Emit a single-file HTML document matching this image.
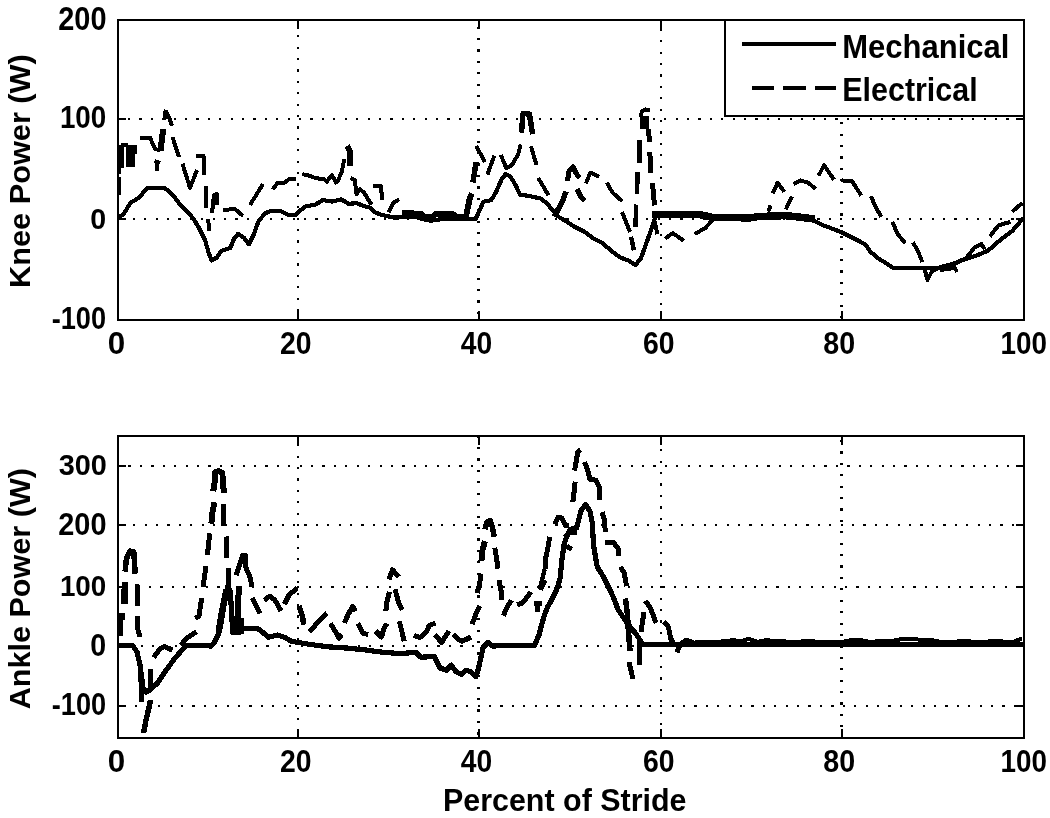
<!DOCTYPE html><html><head><meta charset="utf-8"><style>html,body{margin:0;padding:0;background:#fff;overflow:hidden}svg{display:block;will-change:transform}text{font-family:"Liberation Sans",sans-serif;font-weight:bold;fill:#000}</style></head><body>
<svg shape-rendering="crispEdges" width="1050" height="818" viewBox="0 0 1050 818">
<rect width="1050" height="818" fill="#fff"/>
<g stroke="#000" stroke-width="2.2" stroke-dasharray="2.2 9.21"><line x1="298" y1="20" x2="298" y2="320" stroke-dashoffset="-3.69"/><line x1="478.5" y1="20" x2="478.5" y2="320" stroke-dashoffset="-6.56"/><line x1="661" y1="20" x2="661" y2="320" stroke-dashoffset="-8.76"/><line x1="841.5" y1="20" x2="841.5" y2="320" stroke-dashoffset="-10.86"/><line x1="118" y1="119" x2="1024" y2="119" stroke-dashoffset="-9.90"/><line x1="118" y1="219" x2="1024" y2="219" stroke-dashoffset="-3.39"/></g>
<path d="M298 20v9M298 320v-9M478.5 20v9M478.5 320v-9M661 20v9M661 320v-9M841.5 20v9M841.5 320v-9M118 119h8M1024 119h-8M118 219h8M1024 219h-8" stroke="#000" stroke-width="2" fill="none"/>
<rect x="118" y="20" width="906" height="300" fill="none" stroke="#000" stroke-width="2"/>
<g stroke="#000" stroke-width="2.2" stroke-dasharray="2.2 9.21"><line x1="298" y1="436" x2="298" y2="738" stroke-dashoffset="-8.19"/><line x1="478.5" y1="436" x2="478.5" y2="738" stroke-dashoffset="-11.06"/><line x1="661" y1="436" x2="661" y2="738" stroke-dashoffset="-1.85"/><line x1="841.5" y1="436" x2="841.5" y2="738" stroke-dashoffset="-3.95"/><line x1="118" y1="466" x2="1024" y2="466" stroke-dashoffset="-10.48"/><line x1="118" y1="525" x2="1024" y2="525" stroke-dashoffset="-3.78"/><line x1="118" y1="587" x2="1024" y2="587" stroke-dashoffset="-8.08"/><line x1="118" y1="646" x2="1024" y2="646" stroke-dashoffset="0.00"/><line x1="118" y1="706" x2="1024" y2="706" stroke-dashoffset="-5.88"/></g>
<path d="M298 436v9M298 738v-9M478.5 436v9M478.5 738v-9M661 436v9M661 738v-9M841.5 436v9M841.5 738v-9M118 466h8M1024 466h-8M118 525h8M1024 525h-8M118 587h8M1024 587h-8M118 646h8M1024 646h-8M118 706h8M1024 706h-8" stroke="#000" stroke-width="2" fill="none"/>
<rect x="118" y="436" width="906" height="302" fill="none" stroke="#000" stroke-width="2"/>
<text transform="translate(58.29,30.37) scale(0.2893,0.3296)" font-size="100">200</text>
<text transform="translate(59.89,128.19) scale(0.2782,0.3141)" font-size="100">100</text>
<text transform="translate(90.25,228.80) scale(0.2863,0.3014)" font-size="100">0</text>
<text transform="translate(51.71,328.99) scale(0.2719,0.3070)" font-size="100">-100</text>
<text transform="translate(58.68,474.90) scale(0.2887,0.3042)" font-size="100">300</text>
<text transform="translate(58.29,535.39) scale(0.2893,0.3099)" font-size="100">200</text>
<text transform="translate(59.89,596.40) scale(0.2782,0.3014)" font-size="100">100</text>
<text transform="translate(90.25,656.19) scale(0.2863,0.3099)" font-size="100">0</text>
<text transform="translate(51.71,715.39) scale(0.2719,0.3099)" font-size="100">-100</text>
<text transform="translate(107.85,354.38) scale(0.3137,0.3183)" font-size="100">0</text>
<text transform="translate(279.91,354.38) scale(0.2841,0.3183)" font-size="100">20</text>
<text transform="translate(460.68,354.38) scale(0.2825,0.3183)" font-size="100">40</text>
<text transform="translate(643.01,354.38) scale(0.2841,0.3183)" font-size="100">60</text>
<text transform="translate(823.34,354.38) scale(0.2865,0.3183)" font-size="100">80</text>
<text transform="translate(1000.49,354.38) scale(0.2782,0.3183)" font-size="100">100</text>
<text transform="translate(107.85,772.38) scale(0.3137,0.3183)" font-size="100">0</text>
<text transform="translate(279.91,772.38) scale(0.2841,0.3183)" font-size="100">20</text>
<text transform="translate(460.68,772.38) scale(0.2825,0.3183)" font-size="100">40</text>
<text transform="translate(643.01,772.38) scale(0.2841,0.3183)" font-size="100">60</text>
<text transform="translate(823.34,772.38) scale(0.2865,0.3183)" font-size="100">80</text>
<text transform="translate(1000.49,772.38) scale(0.2782,0.3183)" font-size="100">100</text>
<text transform="translate(442.92,810.90) scale(0.3046,0.3159)" font-size="100">Percent of Stride</text>
<text transform="translate(30.20,287.90) rotate(-90) scale(0.3071,0.3043)" font-size="100">Knee Power (W)</text>
<text transform="translate(29.80,709.37) rotate(-90) scale(0.3062,0.2957)" font-size="100">Ankle Power (W)</text>
<path d="M118.0 218.5 L123.8 213.6 L130.6 202.8 L138.5 197.9 L147.3 188.3 L154.1 188.1 L164.9 188.1 L172.7 195.0 L179.5 203.8 L187.4 211.6 L193.2 218.4 L199.1 228.2 L205.0 240.0 L208.9 253.7 L211.8 260.5 L216.7 257.6 L221.6 250.7 L230.4 247.8 L234.3 238.0 L238.2 233.7 L244.1 238.0 L249.0 244.3 L253.9 234.1 L258.8 220.4 L265.6 213.2 L271.1 210.8 L280.2 210.8 L287.9 214.6 L295.5 215.3 L300.8 210.0 L306.1 206.2 L315.3 204.7 L322.9 200.1 L332.0 201.6 L341.2 199.3 L348.8 203.9 L356.4 203.1 L364.0 206.2 L370.1 207.7 L374.7 212.3 L380.8 214.6 L386.9 216.1 L394.5 217.6 L415.0 216.8 L422.9 219.2 L430.9 220.7 L446.8 218.4 L462.7 218.4 L475.4 219.2 L479.3 211.2 L483.3 201.7 L491.3 200.1 L496.0 192.2 L501.6 179.4 L505.6 173.9 L510.3 176.3 L515.9 185.8 L519.9 194.5 L529.4 196.1 L540.5 198.5 L546.9 203.3 L553.2 211.2 L559.6 217.6 L565.0 220.5 L573.8 226.5 L584.8 232.0 L593.6 238.6 L602.4 243.0 L611.2 250.7 L620.0 257.3 L628.8 260.7 L635.4 265.0 L640.9 258.5 L646.4 243.0 L651.9 227.6 L655.2 217.0 L661.8 214.6 L700.0 214.6 L730.2 218.0 L745.5 217.5 L760.7 216.0 L779.0 216.0 L791.2 216.5 L801.0 218.6 L814.2 220.8 L823.0 225.2 L831.8 228.5 L841.7 232.4 L849.4 236.2 L858.2 240.6 L865.9 245.0 L870.3 251.6 L878.0 258.2 L886.8 263.7 L893.4 268.1 L907.8 268.1 L924.9 268.1 L936.9 268.1 L950.6 264.6 L964.2 259.5 L977.9 255.0 L988.2 250.5 L1000.2 240.0 L1012.2 231.0 L1023.3 218.0" fill="none" stroke="#000" stroke-width="4.2" stroke-linejoin="round" stroke-linecap="butt"/>
<path d="M139.5 137.5 L150.0 137.5 L155.0 149.0 L159.0 150.0 L162.0 138.0 L163.5 129.0" fill="none" stroke="#000" stroke-width="4.0" stroke-linejoin="round" stroke-linecap="butt"/>
<path d="M163.5 111.0 L166.5 112.0 L170.0 120.0 L172.0 126.0" fill="none" stroke="#000" stroke-width="4.0" stroke-linejoin="round" stroke-linecap="butt"/>
<path d="M154.5 161.0 L160.0 163.0" fill="none" stroke="#000" stroke-width="4.0" stroke-linejoin="round" stroke-linecap="butt"/>
<path d="M156.5 162.0 L156.5 171.0" fill="none" stroke="#000" stroke-width="4.0" stroke-linejoin="round" stroke-linecap="butt"/>
<path d="M172.5 137.0 L179.0 157.0" fill="none" stroke="#000" stroke-width="4.0" stroke-linejoin="round" stroke-linecap="butt"/>
<path d="M182.5 163.7 L190.0 188.0 L197.0 170.0" fill="none" stroke="#000" stroke-width="4.0" stroke-linejoin="round" stroke-linecap="butt"/>
<path d="M195.5 156.0 L203.5 156.0 L204.5 175.0" fill="none" stroke="#000" stroke-width="4.0" stroke-linejoin="round" stroke-linecap="butt"/>
<path d="M205.5 186.0 L205.5 208.0" fill="none" stroke="#000" stroke-width="4.0" stroke-linejoin="round" stroke-linecap="butt"/>
<path d="M212.0 213.0 L214.0 195.0 L217.0 194.0 L217.5 205.0" fill="none" stroke="#000" stroke-width="4.0" stroke-linejoin="round" stroke-linecap="butt"/>
<path d="M208.0 219.0 L209.5 231.0" fill="none" stroke="#000" stroke-width="4.0" stroke-linejoin="round" stroke-linecap="butt"/>
<path d="M223.0 210.0 L235.0 209.0 L243.0 216.0" fill="none" stroke="#000" stroke-width="4.0" stroke-linejoin="round" stroke-linecap="butt"/>
<path d="M250.0 205.0 L263.0 184.0" fill="none" stroke="#000" stroke-width="4.0" stroke-linejoin="round" stroke-linecap="butt"/>
<path d="M272.6 189.4 L277.2 183.3 L284.8 182.6 L289.4 178.8 L296.2 178.5" fill="none" stroke="#000" stroke-width="4.0" stroke-linejoin="round" stroke-linecap="butt"/>
<path d="M302.3 174.2 L309.2 175.7 L315.3 178.0 L324.4 179.5 L326.7 181.8 L332.0 175.0 L335.9 182.6 L338.1 180.3 L342.0 171.1 L344.2 159.0" fill="none" stroke="#000" stroke-width="4.0" stroke-linejoin="round" stroke-linecap="butt"/>
<path d="M350.3 178.0 L354.9 180.3 L356.4 194.0 L360.2 189.4 L364.0 192.5 L368.6 200.1 L371.7 204.7" fill="none" stroke="#000" stroke-width="4.0" stroke-linejoin="round" stroke-linecap="butt"/>
<path d="M373.2 186.4 L380.8 185.6 L382.3 200.1" fill="none" stroke="#000" stroke-width="4.0" stroke-linejoin="round" stroke-linecap="butt"/>
<path d="M388.4 212.3 L393.0 203.1 L399.1 199.3" fill="none" stroke="#000" stroke-width="4.0" stroke-linejoin="round" stroke-linecap="butt"/>
<path d="M476.2 146.1 L484.9 162.0" fill="none" stroke="#000" stroke-width="4.0" stroke-linejoin="round" stroke-linecap="butt"/>
<path d="M487.3 174.7 L494.4 155.6" fill="none" stroke="#000" stroke-width="4.0" stroke-linejoin="round" stroke-linecap="butt"/>
<path d="M500.8 154.8 L506.4 168.3 L511.9 165.1 L518.3 154.0 L520.7 144.5" fill="none" stroke="#000" stroke-width="4.0" stroke-linejoin="round" stroke-linecap="butt"/>
<path d="M531.0 146.1 L536.5 165.1" fill="none" stroke="#000" stroke-width="4.0" stroke-linejoin="round" stroke-linecap="butt"/>
<path d="M538.1 177.9 L548.5 195.3" fill="none" stroke="#000" stroke-width="4.0" stroke-linejoin="round" stroke-linecap="butt"/>
<path d="M585.9 183.6 L590.3 172.6 L599.1 177.0" fill="none" stroke="#000" stroke-width="4.0" stroke-linejoin="round" stroke-linecap="butt"/>
<path d="M606.8 182.5 L612.3 192.4 L622.2 201.2" fill="none" stroke="#000" stroke-width="4.0" stroke-linejoin="round" stroke-linecap="butt"/>
<path d="M622.0 212.0 L630.0 232.0" fill="none" stroke="#000" stroke-width="4.0" stroke-linejoin="round" stroke-linecap="butt"/>
<path d="M654.1 218.8 L657.4 234.2" fill="none" stroke="#000" stroke-width="4.0" stroke-linejoin="round" stroke-linecap="butt"/>
<path d="M665.1 238.6 L672.8 233.1 L683.8 240.8" fill="none" stroke="#000" stroke-width="4.0" stroke-linejoin="round" stroke-linecap="butt"/>
<path d="M694.8 234.2 L705.8 227.6 L712.4 219.9" fill="none" stroke="#000" stroke-width="4.0" stroke-linejoin="round" stroke-linecap="butt"/>
<path d="M768.3 211.6 L770.6 205.5" fill="none" stroke="#000" stroke-width="4.0" stroke-linejoin="round" stroke-linecap="butt"/>
<path d="M772.9 193.3 L777.5 182.7 L784.3 191.8" fill="none" stroke="#000" stroke-width="4.0" stroke-linejoin="round" stroke-linecap="butt"/>
<path d="M785.9 209.3 L792.0 196.4" fill="none" stroke="#000" stroke-width="4.0" stroke-linejoin="round" stroke-linecap="butt"/>
<path d="M793.5 184.2 L800.3 180.4 L808.0 182.7 L815.6 188.8" fill="none" stroke="#000" stroke-width="4.0" stroke-linejoin="round" stroke-linecap="butt"/>
<path d="M818.6 175.8 L824.0 165.1 L833.9 179.6" fill="none" stroke="#000" stroke-width="4.0" stroke-linejoin="round" stroke-linecap="butt"/>
<path d="M841.5 180.4 L852.1 181.2 L861.3 195.6" fill="none" stroke="#000" stroke-width="4.0" stroke-linejoin="round" stroke-linecap="butt"/>
<path d="M871.0 196.2 L875.3 206.5 L881.3 216.7" fill="none" stroke="#000" stroke-width="4.0" stroke-linejoin="round" stroke-linecap="butt"/>
<path d="M892.4 221.9 L897.5 233.8 L905.2 243.3" fill="none" stroke="#000" stroke-width="4.0" stroke-linejoin="round" stroke-linecap="butt"/>
<path d="M912.9 242.4 L918.0 251.0 L922.3 262.1" fill="none" stroke="#000" stroke-width="4.0" stroke-linejoin="round" stroke-linecap="butt"/>
<path d="M924.0 267.0 L927.5 280.0 L932.0 271.0 L937.0 269.0" fill="none" stroke="#000" stroke-width="4.0" stroke-linejoin="round" stroke-linecap="butt"/>
<path d="M940.0 270.0 L955.0 268.0 L957.0 272.0" fill="none" stroke="#000" stroke-width="4.0" stroke-linejoin="round" stroke-linecap="butt"/>
<path d="M967.7 256.1 L974.5 247.5 L981.4 244.1 L984.8 249.2" fill="none" stroke="#000" stroke-width="4.0" stroke-linejoin="round" stroke-linecap="butt"/>
<path d="M989.9 236.4 L998.5 225.3 L1010.4 221.9" fill="none" stroke="#000" stroke-width="4.0" stroke-linejoin="round" stroke-linecap="butt"/>
<path d="M1012.2 211.6 L1022.4 203.0" fill="none" stroke="#000" stroke-width="4.0" stroke-linejoin="round" stroke-linecap="butt"/>
<path d="M120.3 636.0 L120.8 613.3" fill="none" stroke="#000" stroke-width="5" stroke-linejoin="round" stroke-linecap="butt"/>
<rect x="121" y="613.3" width="4.4" height="6.7"/>
<path d="M124.3 604.0 L125.0 582.0" fill="none" stroke="#000" stroke-width="6.5" stroke-linejoin="round" stroke-linecap="butt"/>
<path d="M949.0 266.5 L958.0 262.0 L966.0 258.5 L971.0 254.0" fill="none" stroke="#000" stroke-width="4.5" stroke-linejoin="round" stroke-linecap="butt"/>
<path d="M554.0 216.5 L559.0 208.0 L563.0 200.0 L566.0 191.5" fill="none" stroke="#000" stroke-width="5.5" stroke-linejoin="round" stroke-linecap="butt"/>
<path d="M567.5 181.0 L569.0 171.0 L573.0 167.0 L576.0 173.0 L579.5 178.0" fill="none" stroke="#000" stroke-width="5" stroke-linejoin="round" stroke-linecap="butt"/>
<path d="M577.0 189.0 L581.0 197.0 L585.0 201.0" fill="none" stroke="#000" stroke-width="5" stroke-linejoin="round" stroke-linecap="butt"/>
<path d="M160.5 150.5 L163.2 129.0" fill="none" stroke="#000" stroke-width="6" stroke-linejoin="round" stroke-linecap="butt"/>
<path d="M165.2 110.5 L166.5 119.5" fill="none" stroke="#000" stroke-width="5.5" stroke-linejoin="round" stroke-linecap="butt"/>
<path d="M218.8 631.0 L221.5 615.0 L224.5 600.0 L226.5 590.0" fill="none" stroke="#000" stroke-width="6.5" stroke-linejoin="round" stroke-linecap="butt"/>
<rect x="234.7" y="594.7" width="6.0" height="40.3"/>
<rect x="235.6" y="586" width="6.0" height="9.0"/>
<rect x="239.8" y="618" width="4.3" height="16.0"/>
<path d="M227.5 586.0 L230.5 592.0 L231.5 610.0 L232.5 634.0" fill="none" stroke="#000" stroke-width="5" stroke-linejoin="round" stroke-linecap="butt"/>
<path d="M640.5 117.0 L642.0 111.0 L645.5 109.5 L650.0 110.5" fill="none" stroke="#000" stroke-width="4" stroke-linejoin="round" stroke-linecap="butt"/>
<rect x="639.8" y="115.6" width="9.5" height="13.7"/>
<path d="M648.5 129.0 L649.5 142.0" fill="none" stroke="#000" stroke-width="5" stroke-linejoin="round" stroke-linecap="butt"/>
<path d="M639.5 140.0 L639.5 162.5" fill="none" stroke="#000" stroke-width="4.2" stroke-linejoin="round" stroke-linecap="butt"/>
<path d="M637.6 172.3 L637.0 193.8" fill="none" stroke="#000" stroke-width="4.5" stroke-linejoin="round" stroke-linecap="butt"/>
<path d="M636.2 204.5 L635.5 227.0" fill="none" stroke="#000" stroke-width="4.5" stroke-linejoin="round" stroke-linecap="butt"/>
<path d="M649.8 151.8 L651.0 173.2" fill="none" stroke="#000" stroke-width="5" stroke-linejoin="round" stroke-linecap="butt"/>
<path d="M652.5 183.0 L654.5 205.5" fill="none" stroke="#000" stroke-width="5" stroke-linejoin="round" stroke-linecap="butt"/>
<path d="M631.0 236.7 L634.0 250.4" fill="none" stroke="#000" stroke-width="4.5" stroke-linejoin="round" stroke-linecap="butt"/>
<path d="M402.0 213.5 L410.0 212.5 L416.0 214.0 L421.0 213.5 L424.5 217.0 L433.0 217.0 L436.0 213.5 L451.5 213.5 L456.3 216.5 L466.0 216.5 L469.8 198.0 L472.0 193.7" fill="none" stroke="#000" stroke-width="6" stroke-linejoin="round" stroke-linecap="butt"/>
<path d="M652.0 214.6 L700.0 214.6 L712.0 217.3 L750.0 217.9 L758.0 216.6 L785.0 215.6 L795.0 216.6 L815.0 219.0" fill="none" stroke="#000" stroke-width="7.5" stroke-linejoin="round" stroke-linecap="butt"/>
<rect x="118.6" y="148.5" width="2.4" height="25.5"/>
<rect x="118.6" y="177" width="2.4" height="17.5"/>
<rect x="118.6" y="144.5" width="5.1" height="23.0"/>
<rect x="121.3" y="143" width="6.4" height="4.0"/>
<rect x="125.7" y="145.3" width="11.1" height="8.7"/>
<rect x="125.7" y="154" width="9.1" height="12.7"/>
<path d="M473.0 182.5 L476.0 162.0" fill="none" stroke="#000" stroke-width="5.5" stroke-linejoin="round" stroke-linecap="butt"/>
<path d="M347.0 146.0 L349.5 150.0 L350.5 166.0" fill="none" stroke="#000" stroke-width="6" stroke-linejoin="round" stroke-linecap="butt"/>
<path d="M521.5 132.6 L523.0 113.5 L529.4 114.0 L532.6 134.2" fill="none" stroke="#000" stroke-width="5.5" stroke-linejoin="round" stroke-linecap="butt"/>
<path d="M117.0 645.2 L132.5 645.2 L137.0 652.0 L140.0 665.0 L143.0 688.0 L146.0 692.0 L150.0 690.0 L157.3 683.2 L164.7 672.2 L174.5 658.7 L183.0 649.0 L186.7 645.3 L196.5 645.3 L211.2 646.0 L214.6 642.0 L218.5 633.8 L220.1 628.1 L222.7 613.5 L224.4 602.4 L226.1 593.0 L228.0 585.5 L230.0 592.0 L231.5 610.0 L233.0 633.0 L236.0 628.5 L240.7 627.5 L245.4 628.4 L257.5 628.4 L262.9 632.4 L268.2 637.2 L277.6 635.1 L285.7 637.8 L291.1 641.3 L309.4 644.3 L327.8 646.8 L346.1 648.0 L364.4 649.8 L382.8 652.3 L400.0 653.6 L415.9 652.3 L420.8 657.2 L434.2 656.6 L440.3 668.2 L446.5 670.1 L451.3 665.2 L456.2 671.9 L461.1 674.4 L466.0 670.1 L470.9 671.9 L475.8 676.8 L478.2 669.5 L480.7 658.5 L483.1 647.5 L488.0 642.6 L492.9 646.2 L500.0 645.6 L534.4 645.6 L535.4 643.3 L539.0 635.0 L541.8 624.0 L544.5 614.9 L547.3 607.5 L551.0 601.1 L555.6 591.9 L558.3 584.6 L560.1 578.0 L561.8 560.6 L564.2 543.4 L567.9 533.7 L570.3 529.2 L576.5 528.0 L581.3 509.7 L585.6 504.8 L589.9 510.9 L592.3 523.1 L593.6 545.9 L597.2 566.7 L603.3 576.5 L609.5 588.7 L614.4 599.7 L618.0 609.5 L625.4 620.5 L630.0 626.6 L636.0 634.0 L640.0 640.0 L643.0 644.5 L1023.0 644.5" fill="none" stroke="#000" stroke-width="5.2" stroke-linejoin="round" stroke-linecap="butt"/>
<path d="M137.0 584.0 L137.5 606.0" fill="none" stroke="#000" stroke-width="5.0" stroke-linejoin="round" stroke-linecap="butt"/>
<path d="M137.0 616.0 L138.0 630.0 L140.0 637.0" fill="none" stroke="#000" stroke-width="5.0" stroke-linejoin="round" stroke-linecap="butt"/>
<path d="M140.5 672.0 L142.0 702.0" fill="none" stroke="#000" stroke-width="5.0" stroke-linejoin="round" stroke-linecap="butt"/>
<path d="M151.0 669.0 L150.5 689.0" fill="none" stroke="#000" stroke-width="5.0" stroke-linejoin="round" stroke-linecap="butt"/>
<path d="M153.7 657.5 L159.8 649.0 L164.7 646.5 L172.6 650.2" fill="none" stroke="#000" stroke-width="5.0" stroke-linejoin="round" stroke-linecap="butt"/>
<path d="M180.6 645.3 L186.7 638.0 L196.5 631.8" fill="none" stroke="#000" stroke-width="5.0" stroke-linejoin="round" stroke-linecap="butt"/>
<path d="M195.3 618.3 L199.0 616.0 L201.4 600.0 L202.0 598.0" fill="none" stroke="#000" stroke-width="5.0" stroke-linejoin="round" stroke-linecap="butt"/>
<path d="M203.0 587.0 L206.0 566.0" fill="none" stroke="#000" stroke-width="5.0" stroke-linejoin="round" stroke-linecap="butt"/>
<path d="M207.0 555.0 L208.3 548.0 L209.6 533.4" fill="none" stroke="#000" stroke-width="5.0" stroke-linejoin="round" stroke-linecap="butt"/>
<path d="M223.6 504.0 L224.0 526.0" fill="none" stroke="#000" stroke-width="5.0" stroke-linejoin="round" stroke-linecap="butt"/>
<path d="M226.1 536.5 L226.5 557.9" fill="none" stroke="#000" stroke-width="5.0" stroke-linejoin="round" stroke-linecap="butt"/>
<path d="M228.5 568.0 L228.5 589.0" fill="none" stroke="#000" stroke-width="5.0" stroke-linejoin="round" stroke-linecap="butt"/>
<path d="M236.0 575.3 L240.7 561.1 L242.7 555.1 L246.0 555.8 L245.4 566.5 L250.7 578.6 L251.4 586.7" fill="none" stroke="#000" stroke-width="5.0" stroke-linejoin="round" stroke-linecap="butt"/>
<path d="M252.1 598.1 L256.1 605.5 L260.2 613.6" fill="none" stroke="#000" stroke-width="5.0" stroke-linejoin="round" stroke-linecap="butt"/>
<path d="M264.2 600.2 L269.6 596.1 L275.0 600.2 L281.0 610.9" fill="none" stroke="#000" stroke-width="5.0" stroke-linejoin="round" stroke-linecap="butt"/>
<path d="M284.4 604.2 L289.1 594.8 L297.2 588.1" fill="none" stroke="#000" stroke-width="5.0" stroke-linejoin="round" stroke-linecap="butt"/>
<path d="M309.4 632.1 L316.8 623.5 L327.2 613.2" fill="none" stroke="#000" stroke-width="5.0" stroke-linejoin="round" stroke-linecap="butt"/>
<path d="M330.2 623.5 L335.1 630.9 L338.8 638.2 L341.8 634.5" fill="none" stroke="#000" stroke-width="5.0" stroke-linejoin="round" stroke-linecap="butt"/>
<path d="M344.3 622.9 L348.5 613.8 L352.8 606.4 L355.3 611.3" fill="none" stroke="#000" stroke-width="5.0" stroke-linejoin="round" stroke-linecap="butt"/>
<path d="M357.7 623.5 L363.2 633.3 L368.1 634.5" fill="none" stroke="#000" stroke-width="5.0" stroke-linejoin="round" stroke-linecap="butt"/>
<path d="M375.4 630.9 L381.5 637.0 L384.0 628.4 L387.0 623.5" fill="none" stroke="#000" stroke-width="5.0" stroke-linejoin="round" stroke-linecap="butt"/>
<path d="M385.8 611.3 L387.0 601.5 L389.5 591.8" fill="none" stroke="#000" stroke-width="5.0" stroke-linejoin="round" stroke-linecap="butt"/>
<path d="M388.9 579.6 L392.5 569.8 L398.7 577.1" fill="none" stroke="#000" stroke-width="5.0" stroke-linejoin="round" stroke-linecap="butt"/>
<path d="M395.0 589.3 L398.7 602.8 L402.3 610.1" fill="none" stroke="#000" stroke-width="5.0" stroke-linejoin="round" stroke-linecap="butt"/>
<path d="M399.3 621.1 L402.3 633.3 L404.3 641.3" fill="none" stroke="#000" stroke-width="5.0" stroke-linejoin="round" stroke-linecap="butt"/>
<path d="M414.1 635.2 L419.6 637.7 L425.7 632.8 L429.3 625.5 L435.5 623.0" fill="none" stroke="#000" stroke-width="5.0" stroke-linejoin="round" stroke-linecap="butt"/>
<path d="M434.8 634.6 L441.6 642.6 L448.9 631.0" fill="none" stroke="#000" stroke-width="5.0" stroke-linejoin="round" stroke-linecap="butt"/>
<path d="M453.2 634.6 L457.5 638.9 L462.3 641.3 L470.9 637.1" fill="none" stroke="#000" stroke-width="5.0" stroke-linejoin="round" stroke-linecap="butt"/>
<path d="M472.1 624.2 L475.8 614.4 L479.5 605.9" fill="none" stroke="#000" stroke-width="5.0" stroke-linejoin="round" stroke-linecap="butt"/>
<path d="M477.1 593.0 L479.6 584.5 L480.8 573.5" fill="none" stroke="#000" stroke-width="5.0" stroke-linejoin="round" stroke-linecap="butt"/>
<path d="M494.8 547.8 L496.7 558.8 L497.9 568.6" fill="none" stroke="#000" stroke-width="5.0" stroke-linejoin="round" stroke-linecap="butt"/>
<path d="M499.0 580.0 L501.0 590.6 L502.0 600.0" fill="none" stroke="#000" stroke-width="5.0" stroke-linejoin="round" stroke-linecap="butt"/>
<path d="M503.3 615.8 L506.9 607.5 L511.5 600.2" fill="none" stroke="#000" stroke-width="5.0" stroke-linejoin="round" stroke-linecap="butt"/>
<path d="M517.0 604.8 L522.5 602.9 L529.0 594.7 L530.8 592.0" fill="none" stroke="#000" stroke-width="5.0" stroke-linejoin="round" stroke-linecap="butt"/>
<path d="M533.5 603.0 L542.0 603.0" fill="none" stroke="#000" stroke-width="5.0" stroke-linejoin="round" stroke-linecap="butt"/>
<path d="M537.0 603.0 L537.0 612.0" fill="none" stroke="#000" stroke-width="5.0" stroke-linejoin="round" stroke-linecap="butt"/>
<path d="M540.5 590.0 L545.0 580.0" fill="none" stroke="#000" stroke-width="5.0" stroke-linejoin="round" stroke-linecap="butt"/>
<path d="M545.6 568.6 L545.9 556.9 L548.3 545.9 L549.6 536.7" fill="none" stroke="#000" stroke-width="5.0" stroke-linejoin="round" stroke-linecap="butt"/>
<path d="M554.4 524.4 L558.1 517.0 L561.8 518.2 L565.5 525.6 L569.1 525.6" fill="none" stroke="#000" stroke-width="5.0" stroke-linejoin="round" stroke-linecap="butt"/>
<path d="M564.2 537.3 L570.3 532.4 L576.5 532.4" fill="none" stroke="#000" stroke-width="5.0" stroke-linejoin="round" stroke-linecap="butt"/>
<path d="M566.7 545.9 L571.6 549.6" fill="none" stroke="#000" stroke-width="5.0" stroke-linejoin="round" stroke-linecap="butt"/>
<path d="M572.8 502.3 L574.0 492.6 L575.2 481.6" fill="none" stroke="#000" stroke-width="5.0" stroke-linejoin="round" stroke-linecap="butt"/>
<path d="M574.6 470.6 L576.5 459.6 L577.7 452.2 L580.7 449.8" fill="none" stroke="#000" stroke-width="5.0" stroke-linejoin="round" stroke-linecap="butt"/>
<path d="M584.4 462.0 L587.5 469.3 L589.9 479.1 L596.0 480.3 L599.1 486.5 L599.7 499.9" fill="none" stroke="#000" stroke-width="5.0" stroke-linejoin="round" stroke-linecap="butt"/>
<path d="M602.1 512.1 L604.6 520.7 L605.2 531.7" fill="none" stroke="#000" stroke-width="5.0" stroke-linejoin="round" stroke-linecap="butt"/>
<path d="M604.6 542.2 L613.1 542.2 L618.0 548.3 L618.6 555.7" fill="none" stroke="#000" stroke-width="5.0" stroke-linejoin="round" stroke-linecap="butt"/>
<path d="M620.5 566.7 L624.1 572.8 L626.6 586.2" fill="none" stroke="#000" stroke-width="5.0" stroke-linejoin="round" stroke-linecap="butt"/>
<path d="M629.0 662.0 L633.0 679.0" fill="none" stroke="#000" stroke-width="5.0" stroke-linejoin="round" stroke-linecap="butt"/>
<path d="M639.5 665.0 L639.5 640.0" fill="none" stroke="#000" stroke-width="5.0" stroke-linejoin="round" stroke-linecap="butt"/>
<path d="M644.0 612.0 L641.0 632.0" fill="none" stroke="#000" stroke-width="5.0" stroke-linejoin="round" stroke-linecap="butt"/>
<path d="M645.1 601.0 L650.0 607.1 L656.1 623.0" fill="none" stroke="#000" stroke-width="5.0" stroke-linejoin="round" stroke-linecap="butt"/>
<path d="M663.5 621.8 L668.3 626.7 L670.8 638.9 L673.2 642.6" fill="none" stroke="#000" stroke-width="5.0" stroke-linejoin="round" stroke-linecap="butt"/>
<path d="M676.9 652.3 L680.6 643.8 L686.7 640.1 L692.8 642.6" fill="none" stroke="#000" stroke-width="5.0" stroke-linejoin="round" stroke-linecap="butt"/>
<path d="M125.1 571.6 L126.4 558.8 L129.8 551.0 L133.8 552.1 L135.2 573.6" fill="none" stroke="#000" stroke-width="5.5" stroke-linejoin="round" stroke-linecap="butt"/>
<path d="M143.5 733.0 L146.0 720.0 L148.0 712.0 L150.5 700.0" fill="none" stroke="#000" stroke-width="5.5" stroke-linejoin="round" stroke-linecap="butt"/>
<path d="M211.4 523.6 L212.6 511.4 L214.5 502.2" fill="none" stroke="#000" stroke-width="6" stroke-linejoin="round" stroke-linecap="butt"/>
<path d="M213.2 491.2 L214.5 483.2 L215.1 472.0 L218.7 471.2 L222.4 473.0 L223.0 485.7 L224.3 493.0" fill="none" stroke="#000" stroke-width="6" stroke-linejoin="round" stroke-linecap="butt"/>
<path d="M299.0 605.8 L302.1 615.0 L303.9 624.8" fill="none" stroke="#000" stroke-width="5.5" stroke-linejoin="round" stroke-linecap="butt"/>
<path d="M481.4 561.2 L482.6 549.0 L485.1 541.1" fill="none" stroke="#000" stroke-width="6" stroke-linejoin="round" stroke-linecap="butt"/>
<path d="M485.1 529.4 L486.9 522.1 L490.0 520.5 L492.4 527.0 L494.2 536.8" fill="none" stroke="#000" stroke-width="5.5" stroke-linejoin="round" stroke-linecap="butt"/>
<path d="M625.4 598.5 L627.5 615.0 L628.0 625.0 L630.0 651.0" fill="none" stroke="#000" stroke-width="5.5" stroke-linejoin="round" stroke-linecap="butt"/>
<path d="M539.8 588.7 L542.2 578.9 L544.7 569.1" fill="none" stroke="#000" stroke-width="4.4" stroke-linejoin="round" stroke-linecap="butt"/>
<path d="M692.8 642.6 L700.2 642.3 L707.0 642.3 L715.9 642.3 L722.2 641.3 L733.7 640.1 L741.3 641.3 L748.4 638.8 L757.2 641.8 L766.5 640.1 L776.4 641.3 L783.8 641.3 L795.0 642.3 L803.3 641.3 L813.3 641.3 L820.3 642.3 L826.5 641.8 L832.7 641.8 L840.3 642.3 L850.7 640.1 L860.9 640.1 L869.3 641.8 L878.8 641.3 L890.0 641.3 L896.3 640.1 L903.6 638.8 L912.2 638.8 L923.3 640.1 L932.4 640.1 L941.8 642.3 L951.3 642.3 L958.7 641.3 L968.8 641.3 L979.9 642.3 L990.0 641.3 L1000.2 641.3 L1011.9 642.3 L1021.4 638.8 L1022.0 638.8" fill="none" stroke="#000" stroke-width="4.0" stroke-linejoin="round" stroke-linecap="butt"/>
<rect x="725" y="20" width="299" height="96" fill="#fff" stroke="#000" stroke-width="2"/>
<line x1="742.3" y1="44" x2="835.7" y2="44" stroke="#000" stroke-width="4.2"/>
<line x1="751.7" y1="87.7" x2="835.7" y2="87.7" stroke="#000" stroke-width="4.2" stroke-dasharray="22.3 9.3"/>
<text transform="translate(842.29,58.30) scale(0.3100,0.3362)" font-size="100">Mechanical</text>
<text transform="translate(842.32,101.40) scale(0.3042,0.3304)" font-size="100">Electrical</text>
</svg></body></html>
